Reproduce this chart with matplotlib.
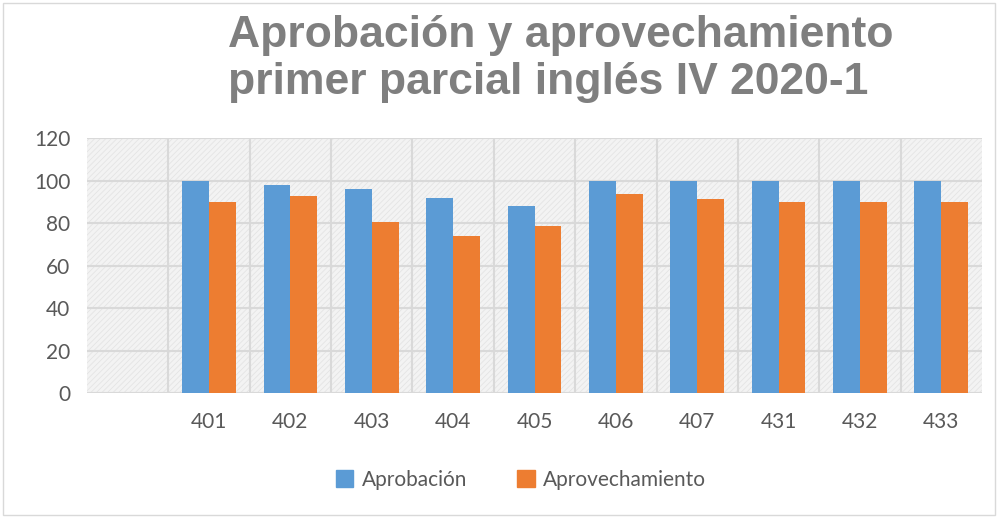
import matplotlib
matplotlib.use("Agg")
import matplotlib.pyplot as plt
from matplotlib.patches import Rectangle, Patch
import numpy as np

grupos = ["401", "402", "403", "404", "405", "406", "407", "431", "432", "433"]
aprobacion = [100, 98, 96, 92, 88, 100, 100, 100, 100, 100]
aprovechamiento = [90, 92.5, 80.5, 74, 78.5, 93.5, 91.5, 90, 90, 90]

azul = "#5b9bd5"
naranja = "#ed7d31"
gris_txt = "#595959"

plt.rcParams["hatch.linewidth"] = 0.6
plt.rcParams["hatch.color"] = "#e2e2e2"

fig = plt.figure(figsize=(9.98, 5.2), dpi=100)
fig.patch.set_facecolor("white")
fig.patches.append(Rectangle((0.003, 0.01), 0.994, 0.985, transform=fig.transFigure,
                             fill=False, edgecolor="#d9d9d9", linewidth=1))

ax = fig.add_axes([0.0872, 0.2442, 0.8968, 0.4904])
ax.set_facecolor("#f3f3f3")
ax.add_patch(Rectangle((0, 0), 1, 1, transform=ax.transAxes, facecolor="none",
                       hatch="//////", edgecolor="#e4e4e4", linewidth=0, zorder=0))

x = np.arange(1, len(grupos) + 1)
w = 0.33
ax.bar(x - w / 2, aprobacion, w, color=azul, label="Aprobación", zorder=3)
ax.bar(x + w / 2, aprovechamiento, w, color=naranja, label="Aprovechamiento", zorder=3)

ax.set_xlim(-0.5, len(grupos) + 0.5)
ax.set_ylim(0, 120)
ax.set_yticks(range(0, 121, 20))
ax.set_xticks(x)
ax.set_xticklabels(grupos)
ax.set_xticks(np.arange(0.5, len(grupos)), minor=True)

ax.grid(axis="y", which="major", color="#d9d9d9", linewidth=1.5, zorder=1)
ax.grid(axis="x", which="minor", color="#d9d9d9", linewidth=1.5, zorder=1)
ax.set_axisbelow(True)
for s in ax.spines.values():
    s.set_visible(False)
ax.tick_params(which="both", length=0)
ax.tick_params(axis="y", pad=12, labelsize=15, labelcolor=gris_txt)
ax.tick_params(axis="x", pad=14, labelsize=15, labelcolor=gris_txt)
for t in ax.get_xticklabels() + ax.get_yticklabels():
    t.set_fontfamily("Lato")

fig.text(0.2285, 0.972, "Aprobación y aprovechamiento\nprimer parcial inglés IV 2020-1",
         ha="left", va="top", multialignment="left", fontsize=32, fontweight="bold",
         color="#7f7f7f", family="Liberation Sans", linespacing=1.2)

handles = [Patch(color=azul, label="Aprobación"), Patch(color=naranja, label="Aprovechamiento")]
leg = fig.legend(handles=handles, loc="center", bbox_to_anchor=(0.522, 0.077), ncol=2,
                 frameon=False, handlelength=0.85, handleheight=0.85, handletextpad=0.4,
                 columnspacing=2.4, prop={"family": "Lato", "size": 15})
for t in leg.get_texts():
    t.set_color(gris_txt)

fig.savefig("out.png", dpi=100)
